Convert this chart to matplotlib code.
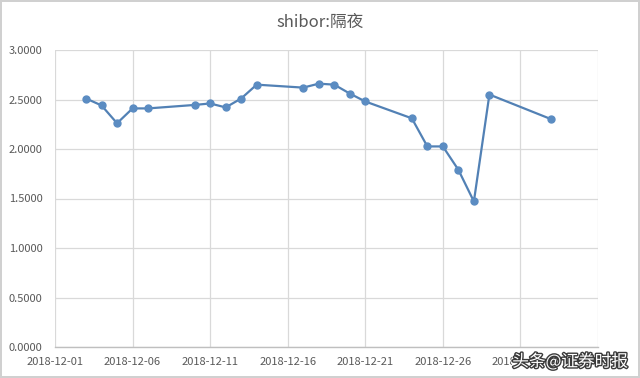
import matplotlib
matplotlib.use("Agg")
import matplotlib.pyplot as plt
import matplotlib.dates as mdates
import matplotlib.patheffects as pe
import pandas as pd

plt.rcParams['font.family'] = ['Noto Sans CJK SC', 'DejaVu Sans']

title = "shibor:隔夜"
dates = ["2018-12-03", "2018-12-04", "2018-12-05", "2018-12-06", "2018-12-07",
         "2018-12-10", "2018-12-11", "2018-12-12", "2018-12-13", "2018-12-14",
         "2018-12-17", "2018-12-18", "2018-12-19", "2018-12-20", "2018-12-21",
         "2018-12-24", "2018-12-25", "2018-12-26", "2018-12-27", "2018-12-28",
         "2018-12-29", "2019-01-02"]
values = [2.51, 2.44, 2.26, 2.41, 2.41,
          2.445, 2.46, 2.42, 2.51, 2.65,
          2.62, 2.66, 2.65, 2.56, 2.48,
          2.31, 2.026, 2.026, 1.79, 1.47,
          2.55, 2.30]
tick_dates = ["2018-12-01", "2018-12-06", "2018-12-11", "2018-12-16",
              "2018-12-21", "2018-12-26", "2018-12-31"]
y_ticks = [0.0, 0.5, 1.0, 1.5, 2.0, 2.5, 3.0]
watermark = "头条@证券时报"

x = pd.to_datetime(dates)
xt = pd.to_datetime(tick_dates)

fig = plt.figure(figsize=(6.4, 3.78), dpi=100)
fig.patch.set_facecolor("white")
fig.patch.set_edgecolor("#D0D0D0")
fig.patch.set_linewidth(1.5)

ax = fig.add_axes([55/640, 1-347/378, (598-55)/640, (347-50)/378])
line_color = "#5281B5"
marker_color = "#5B8CC2"
ax.plot(x, values, color=line_color, linewidth=1.6, marker="o",
        markersize=5, markerfacecolor=marker_color, markeredgecolor=marker_color,
        zorder=3)

ax.set_xlim(pd.Timestamp("2018-12-01"), pd.Timestamp("2019-01-05"))
ax.set_ylim(0, 3.0)
ax.set_xticks(xt)
ax.xaxis.set_major_formatter(mdates.DateFormatter("%Y-%m-%d"))
ax.set_yticks(y_ticks)
ax.set_yticklabels([f"{v:.4f}" for v in y_ticks])

ax.grid(True, color="#D9D9D9", linewidth=0.9)
ax.axvline(pd.Timestamp("2019-01-05"), color="#D9D9D9", linewidth=0.9)
ax.set_axisbelow(True)
for s in ["top", "right", "left"]:
    ax.spines[s].set_visible(False)
ax.spines["bottom"].set_color("#BFBFBF")
ax.spines["bottom"].set_linewidth(1.0)
ax.tick_params(axis="both", length=0, labelsize=8, colors="#595959")
ax.tick_params(axis="x", pad=7.5)
ax.tick_params(axis="y", pad=9)

fig.text(320/640, 1-22/378, title, ha="center", va="center",
         fontsize=12, color="#595959")

fig.text(570/640, 1-362/378, watermark, ha="center", va="center",
         fontsize=12, color="white",
         path_effects=[pe.withStroke(linewidth=2, foreground="#3A3A3A")],
         bbox=dict(facecolor="white", edgecolor="none", pad=0.5))

fig.savefig("out.png", dpi=100, facecolor=fig.get_facecolor(),
            edgecolor=fig.get_edgecolor())
